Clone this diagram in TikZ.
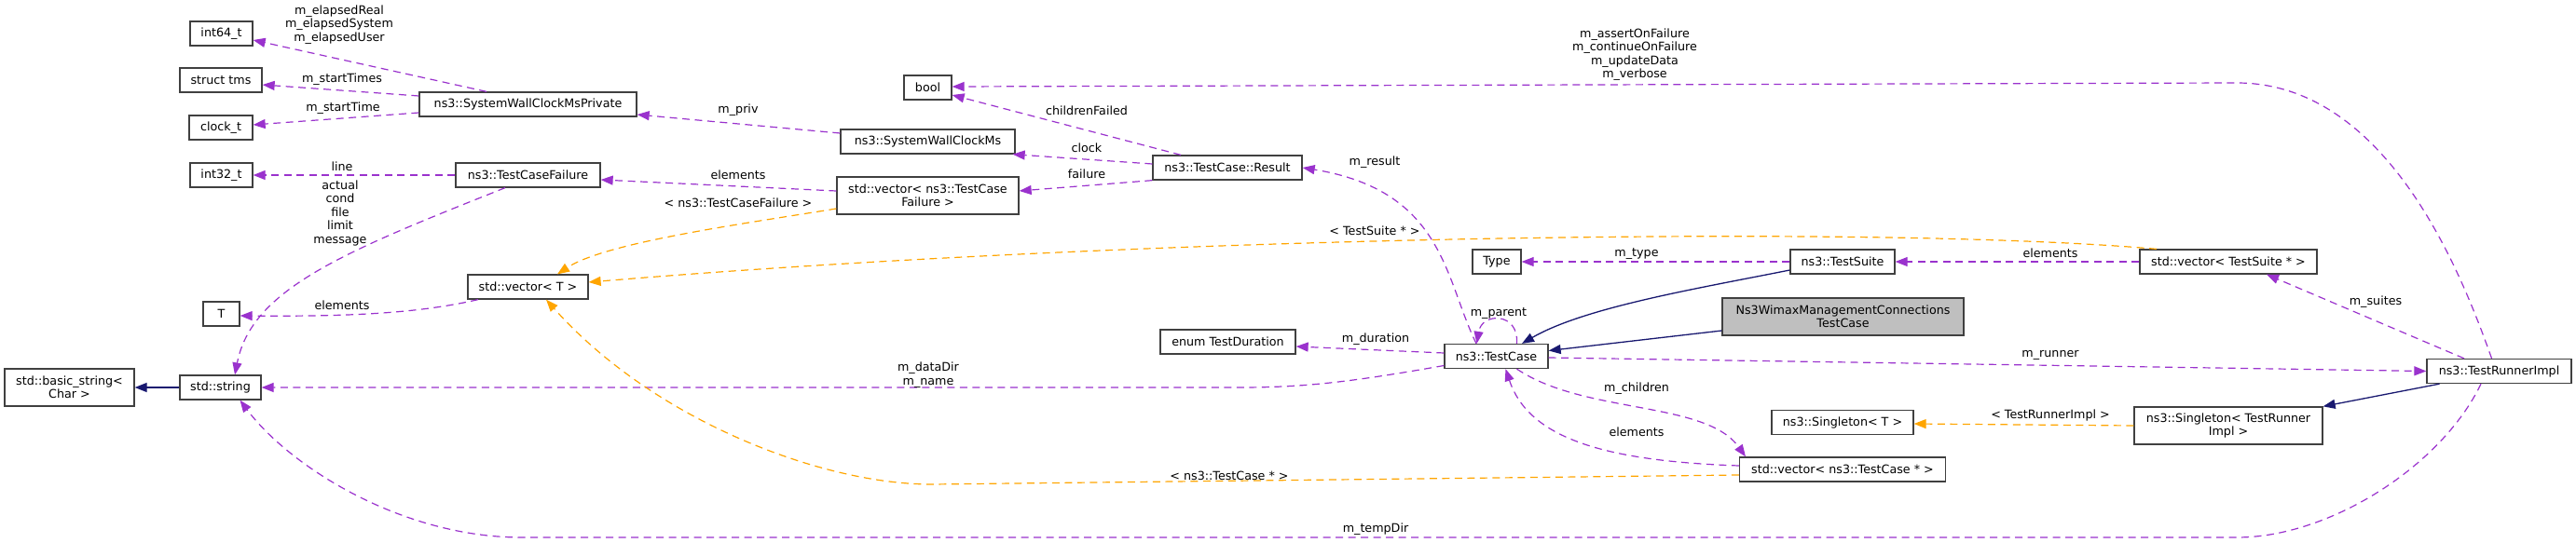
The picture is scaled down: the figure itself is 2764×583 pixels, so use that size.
\documentclass[tikz,border=0pt]{standalone}
\usepackage{fontspec}
\setmainfont{DejaVu Sans}
\usetikzlibrary{arrows.meta}
\definecolor{purp}{HTML}{9A32CD}
\definecolor{orng}{HTML}{FFA500}
\definecolor{navy}{HTML}{191970}
\definecolor{boxline}{HTML}{404040}
\definecolor{gray75}{HTML}{BFBFBF}
\newcommand\dxfont{\fontsize{12.7pt}{14.5pt}\selectfont}
\tikzset{
  box/.style={draw=boxline, fill=white, line width=1.3pt, inner sep=0pt,
    minimum height=26pt, align=center, font=\dxfont},
  lbl/.style={inner sep=0pt, align=center, font=\dxfont},
  tip/.style={-{Triangle[length=13pt,width=10pt]}},
  mem/.style={draw=purp, line width=1.2pt, dash pattern=on 8pt off 5.5pt, tip},
  tmpl/.style={draw=orng, line width=1.2pt, dash pattern=on 8pt off 5.5pt, tip},
  inh/.style={draw=navy, line width=1.3pt, tip}
}
\begin{document}
\begin{tikzpicture}[x=1pt,y=-1pt]
\useasboundingbox (0,0) rectangle (2764,583);
% nodes
\node[box, minimum width=67pt] (int64) at (237.5,36) {int64\_t};
\node[box, minimum width=88pt] (tms) at (237,86) {struct tms};
\node[box, minimum width=68pt] (clockt) at (237,137) {clock\_t};
\node[box, minimum width=67pt] (int32) at (237.5,188) {int32\_t};
\node[box, minimum width=39pt] (T) at (237.5,337) {T};
\node[box, minimum width=139pt, minimum height=40pt] (bstr) at (74.5,416) {std::basic\_string<\\Char >};
\node[box, minimum width=87pt] (str) at (236.5,416) {std::string};
\node[box, minimum width=233pt] (swcp) at (566.5,112) {ns3::SystemWallClockMsPrivate};
\node[box, minimum width=155pt] (tcf) at (566.5,188) {ns3::TestCaseFailure};
\node[box, minimum width=129pt] (vecT) at (566.5,308) {std::vector< T >};
\node[box, minimum width=51pt] (bool) at (995.5,94) {bool};
\node[box, minimum width=187pt] (swcm) at (995.5,152) {ns3::SystemWallClockMs};
\node[box, minimum width=195pt, minimum height=40pt] (vtcf) at (995.5,210) {std::vector< ns3::TestCase\\Failure >};
\node[box, minimum width=145pt] (dur) at (1317.5,367) {enum TestDuration};
\node[box, minimum width=160pt] (res) at (1317,180) {ns3::TestCase::Result};
\node[box, minimum width=111pt] (tc) at (1605.5,382.5) {ns3::TestCase};
\node[box, minimum width=52pt] (type) at (1606,281) {Type};
\node[box, minimum width=112pt] (suite) at (1977,281) {ns3::TestSuite};
\node[box, fill=gray75, minimum width=259pt, minimum height=40pt] (wimax) at (1977.5,340) {Ns3WimaxManagementConnections\\TestCase};
\node[box, minimum width=152pt] (singT) at (1977,453.5) {ns3::Singleton< T >};
\node[box, minimum width=221pt] (vtc) at (1977,504) {std::vector< ns3::TestCase * >};
\node[box, minimum width=190pt] (vts) at (2391,281) {std::vector< TestSuite * >};
\node[box, minimum width=202pt, minimum height=40pt] (stri) at (2391,457) {ns3::Singleton< TestRunner\\Impl >};
\node[box, minimum width=155pt] (tri) at (2681.5,398.5) {ns3::TestRunnerImpl};
% member edges
\draw[mem] ([xshift=-44.5pt]swcp.north) -- ([yshift=-7pt]int64.east);
\draw[mem] ([yshift=9pt]swcp.west) -- ([yshift=-5pt]tms.east);
\draw[mem] ([yshift=-9pt]swcp.west) -- ([yshift=3pt]clockt.east);
\draw[mem] ([yshift=9pt]swcm.west) -- ([yshift=-11pt]swcp.east);
\draw[mem] (tcf.west) -- (int32.east);
\draw[mem] ([xshift=-24.5pt]tcf.south) .. controls (370,270) and (270,310) .. ([xshift=15.5pt]str.north);
\draw[mem] ([xshift=-53.5pt]vecT.south) .. controls (450,336) and (380,340) .. ([yshift=-2pt]T.east);
\draw[mem] ([yshift=5pt]vtcf.west) -- ([yshift=-5pt]tcf.east);
\draw[mem] ([xshift=-50pt]res.north) -- ([yshift=-8pt]bool.east);
\draw[mem] ([yshift=4pt]res.west) -- ([xshift=-3pt]swcm.south east);
\draw[mem] (res.south west) -- ([yshift=5pt]vtcf.east);
\draw[mem] ([xshift=-21.5pt]tc.north) .. controls (1550,300) and (1550,205) .. (res.east);
\draw[mem] ([xshift=22pt]tc.north) .. controls (1630,335) and (1590,335) .. ([xshift=-21pt]tc.north);
\draw[mem] ([yshift=3.5pt]tc.west) -- ([yshift=-5pt]dur.east);
\draw[mem] ([yshift=-10pt]tc.west) .. controls (1450,410) and (1400,416) .. (1330,416) -- (str.east);
\draw[mem] (suite.west) -- (type.east);
\draw[mem] (vts.west) -- (suite.east);
\draw[mem] ([yshift=-1.5pt]tc.east) -- (tri.west);
\draw[mem] ([xshift=-37.5pt]tri.north) -- ([xshift=41pt]vts.south);
\draw[mem] ([xshift=-8pt]tri.north) .. controls (2640,290) and (2560,89) .. (2400,89) -- ([yshift=1pt]bool.east);
\draw[mem] ([xshift=-19.5pt]tri.south) .. controls (2620,500) and (2500,577) .. (2400,577) -- (560,577) .. controls (430,577) and (310,500) .. ([xshift=21pt]str.south);
\draw[mem] ([xshift=22pt]tc.south) .. controls (1700,445) and (1830,430) .. ([xshift=-104pt]vtc.north);
\draw[mem] ([yshift=4pt]vtc.west) .. controls (1720,495) and (1640,470) .. ([xshift=10pt]tc.south);
% template edges
\draw[tmpl] ([yshift=-14pt]vtcf.west) .. controls (800,240) and (650,260) .. ([xshift=31.5pt]vecT.north);
\draw[tmpl] ([xshift=-77pt]vts.north) .. controls (2000,240) and (1200,255) .. ([yshift=5pt]vecT.east);
\draw[tmpl] ([yshift=-6pt]vtc.west) -- (1000,520) .. controls (880,520) and (700,450) .. ([xshift=19.5pt]vecT.south);
\draw[tmpl] (stri.west) -- ([yshift=-1.5pt]singT.east);
% inheritance edges
\draw[inh] (str.west) -- (bstr.east);
\draw[inh] ([yshift=-9pt]suite.west) .. controls (1820,310) and (1700,330) .. ([xshift=27.5pt]tc.north);
\draw[inh] ([yshift=-15pt]wimax.west) -- ([yshift=6pt]tc.east);
\draw[inh] ([xshift=-64pt]tri.south) -- (stri.north east);
% labels
\node[lbl] (l1) at (364,26.5) {m\_elapsedReal\\m\_elapsedSystem\\m\_elapsedUser};
\node[lbl] (l2) at (367,85) {m\_startTimes};
\node[lbl] (l3) at (368,116) {m\_startTime};
\node[lbl] (l4) at (367,179) {line};
\node[lbl] (l5) at (365,228.5) {actual\\cond\\file\\limit\\message};
\node[lbl] (l6) at (367,328) {elements};
\node[lbl] (l7) at (792,118) {m\_priv};
\node[lbl] (l8) at (792,188) {elements};
\node[lbl] (l9) at (792,218) {< ns3::TestCaseFailure >};
\node[lbl] (l10) at (1166,119) {childrenFailed};
\node[lbl] (l11) at (1166,159) {clock};
\node[lbl] (l12) at (1166,187) {failure};
\node[lbl] (l13) at (1475,174) {m\_result};
\node[lbl] (l14) at (1475,248) {< TestSuite * >};
\node[lbl] (l15) at (1756,273) {m\_type};
\node[lbl] (l16) at (1608,337) {m\_parent};
\node[lbl] (l17) at (1476,364) {m\_duration};
\node[lbl] (l18) at (996,402.5) {m\_dataDir\\m\_name};
\node[lbl] (l19) at (1756,417) {m\_children};
\node[lbl] (l20) at (1756,464) {elements};
\node[lbl] (l21) at (1319,511) {< ns3::TestCase * >};
\node[lbl] (l22) at (1476,568) {m\_tempDir};
\node[lbl] (l23) at (2200,272) {elements};
\node[lbl] (l24) at (2200,381) {m\_runner};
\node[lbl] (l25) at (2200,446) {< TestRunnerImpl >};
\node[lbl] (l26) at (2549,324) {m\_suites};
\node[lbl] (l27) at (1754,58.5) {m\_assertOnFailure\\m\_continueOnFailure\\m\_updateData\\m\_verbose};
\end{tikzpicture}
\end{document}
